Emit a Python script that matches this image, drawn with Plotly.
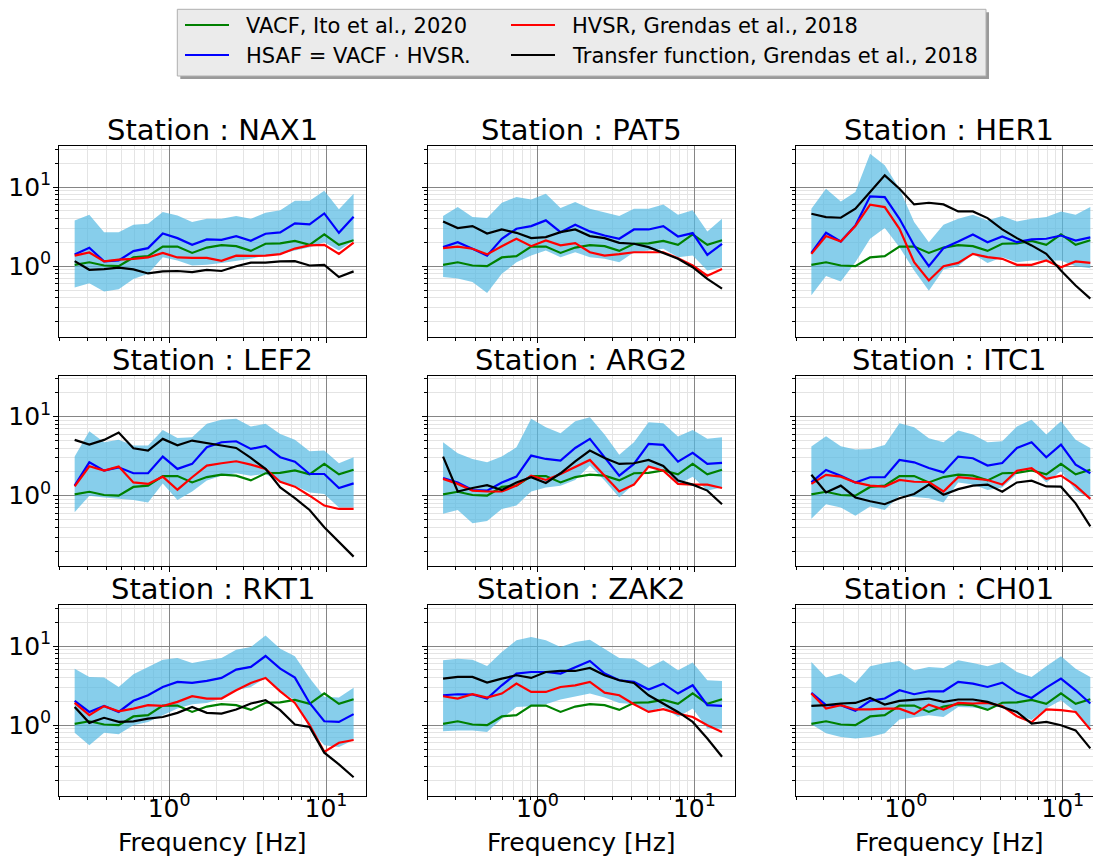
import plotly.graph_objects as go

W, H = 1093, 857
FONT = "DejaVu Sans"

# Frequencies of the spectral ratios [Hz]
freq_hz = [0.25, 0.310, 0.385, 0.477, 0.592, 0.734, 0.911, 1.130, 1.402, 1.739,
           2.157, 2.676, 3.319, 4.117, 5.107, 6.336, 7.860, 9.750, 12.09, 15.0]

# VACF from Ito et al. (2020), common to every station
vacf_ito2020 = [1.04, 1.12, 1.02, 1.00, 1.29, 1.34, 1.77, 1.77, 1.47, 1.72,
                1.84, 1.79, 1.56, 1.92, 1.94, 2.09, 1.86, 2.52, 1.86, 2.13]

# ---- NAX1
hsaf_NAX1 = [1.41, 1.71, 1.15, 1.18, 1.55, 1.69, 2.59, 2.26, 1.86, 2.18, 2.15, 2.40, 2.09, 2.57, 2.67, 3.47, 3.37, 4.64, 2.64, 4.21]
hvsr_NAX1 = [1.36, 1.49, 1.15, 1.21, 1.24, 1.29, 1.47, 1.29, 1.27, 1.27, 1.17, 1.36, 1.35, 1.36, 1.42, 1.67, 1.83, 1.86, 1.43, 1.99]
tf_NAX1 = [1.16, 0.90, 0.92, 0.96, 0.91, 0.81, 0.86, 0.87, 0.84, 0.90, 0.87, 1.00, 1.11, 1.11, 1.15, 1.16, 1.02, 1.04, 0.73, 0.86]
hsaf_hi_NAX1 = [3.79, 4.47, 2.69, 2.69, 3.34, 3.44, 4.83, 4.38, 3.61, 3.97, 3.97, 4.30, 3.97, 4.73, 5.07, 6.71, 6.71, 8.99, 5.22, 8.24]
hsaf_lo_NAX1 = [0.54, 0.61, 0.48, 0.51, 0.69, 0.80, 1.30, 1.18, 1.02, 1.04, 1.10, 1.18, 1.24, 1.36, 1.43, 1.58, 1.74, 2.01, 1.58, 2.11]

# ---- PAT5
hsaf_PAT5 = [1.74, 2.01, 1.66, 1.36, 2.22, 2.97, 3.21, 3.79, 2.69, 3.34, 2.75, 2.44, 2.22, 2.91, 2.91, 3.21, 2.37, 2.62, 1.39, 1.92]
hvsr_PAT5 = [1.69, 1.77, 1.66, 1.41, 1.79, 2.22, 1.79, 2.11, 1.83, 1.96, 1.50, 1.36, 1.42, 1.50, 1.50, 1.50, 1.26, 1.02, 0.76, 0.92]
tf_PAT5 = [3.68, 3.03, 3.21, 2.59, 2.91, 2.64, 2.26, 2.33, 2.69, 2.91, 2.40, 2.26, 1.97, 1.92, 1.74, 1.46, 1.24, 0.97, 0.69, 0.52]
hsaf_hi_PAT5 = [4.30, 5.58, 4.17, 4.05, 6.33, 7.47, 6.98, 8.24, 5.42, 6.46, 5.32, 4.73, 4.30, 5.32, 5.32, 6.03, 4.47, 5.07, 2.75, 3.97]
hsaf_lo_PAT5 = [0.73, 0.70, 0.63, 0.46, 0.80, 1.12, 1.36, 1.58, 1.30, 1.50, 1.30, 1.24, 1.12, 1.50, 1.58, 1.66, 1.30, 1.36, 0.88, 0.97]

# ---- HER1
hsaf_HER1 = [1.47, 2.64, 2.05, 3.27, 7.62, 7.47, 3.97, 1.83, 1.00, 1.69, 2.05, 2.52, 2.01, 2.37, 2.01, 2.18, 2.22, 2.44, 2.11, 2.31]
hvsr_HER1 = [1.43, 2.40, 2.05, 3.21, 5.97, 5.58, 2.97, 1.12, 0.66, 1.00, 1.10, 1.43, 1.30, 1.24, 1.04, 1.04, 1.18, 0.97, 1.15, 1.10]
tf_HER1 = [4.59, 4.17, 4.09, 5.32, 8.64, 14.05, 9.50, 6.03, 6.33, 6.03, 4.92, 4.92, 4.05, 2.91, 2.26, 1.83, 1.43, 0.88, 0.57, 0.39]
hsaf_hi_HER1 = [5.32, 9.53, 6.58, 8.64, 26.4, 18.8, 9.53, 3.61, 2.01, 3.34, 3.97, 4.47, 3.79, 4.30, 3.68, 3.97, 4.17, 4.92, 4.47, 5.58]
hsaf_lo_HER1 = [0.43, 0.75, 0.64, 1.12, 2.22, 3.03, 1.74, 0.88, 0.49, 0.91, 1.00, 1.43, 1.10, 1.30, 1.12, 1.18, 1.18, 1.18, 1.00, 0.94]

# ---- LEF2
hsaf_LEF2 = [1.34, 2.64, 2.07, 2.28, 1.92, 1.92, 3.12, 2.18, 2.52, 4.09, 4.73, 4.87, 3.90, 4.25, 3.06, 2.69, 1.88, 1.88, 1.25, 1.43]
hvsr_LEF2 = [1.31, 2.35, 2.07, 2.33, 1.47, 1.41, 1.74, 1.19, 1.71, 2.40, 2.57, 2.72, 2.47, 2.18, 1.50, 1.30, 1.00, 0.75, 0.68, 0.68]
tf_LEF2 = [5.07, 4.42, 5.07, 6.27, 3.97, 3.71, 5.22, 4.34, 4.97, 4.59, 4.30, 4.01, 3.00, 2.18, 1.27, 0.93, 0.66, 0.40, 0.26, 0.17]
hsaf_hi_LEF2 = [3.12, 6.52, 4.73, 5.07, 4.30, 4.30, 6.78, 5.37, 5.47, 8.08, 9.07, 9.34, 7.47, 8.08, 6.03, 5.07, 3.64, 3.71, 2.57, 3.06]
hsaf_lo_LEF2 = [0.62, 1.00, 0.95, 0.91, 0.88, 0.82, 1.43, 0.88, 1.13, 1.55, 1.79, 1.92, 1.79, 1.88, 1.47, 1.34, 1.10, 1.05, 0.71, 0.71]

# ---- ARG2
hsaf_ARG2 = [1.67, 1.47, 1.18, 1.16, 1.47, 1.74, 3.21, 2.91, 2.77, 4.01, 5.22, 3.06, 1.79, 2.52, 4.51, 4.38, 2.69, 3.47, 2.52, 2.59]
hvsr_ARG2 = [1.63, 1.41, 1.16, 1.13, 1.13, 1.34, 1.79, 1.58, 1.88, 2.28, 2.83, 1.79, 1.13, 1.38, 2.33, 2.07, 1.41, 1.38, 1.38, 1.25]
tf_ARG2 = [3.12, 1.13, 1.25, 1.36, 1.18, 1.47, 1.71, 1.45, 1.92, 2.72, 3.71, 3.00, 2.52, 2.57, 2.83, 2.37, 1.55, 1.38, 1.16, 0.78]
hsaf_hi_ARG2 = [4.73, 3.44, 2.91, 2.64, 3.12, 4.09, 9.34, 7.33, 6.15, 8.73, 9.81, 5.92, 3.30, 4.73, 8.48, 8.24, 5.58, 6.78, 5.22, 5.47]
hsaf_lo_ARG2 = [0.59, 0.66, 0.45, 0.48, 0.68, 0.75, 1.13, 1.27, 1.34, 1.58, 2.40, 1.55, 0.95, 1.41, 2.28, 2.18, 1.38, 1.74, 1.16, 1.27]

# ---- ITC1
hsaf_ITC1 = [1.47, 2.11, 1.79, 1.47, 1.71, 1.71, 2.83, 2.64, 2.24, 1.97, 3.12, 2.97, 2.40, 2.59, 4.01, 4.73, 3.06, 4.42, 2.47, 1.92]
hvsr_ITC1 = [1.41, 1.83, 1.74, 1.47, 1.34, 1.30, 1.58, 1.50, 1.49, 1.13, 1.71, 1.66, 1.58, 1.38, 2.07, 2.22, 1.63, 1.79, 1.34, 0.91]
tf_ITC1 = [1.84, 1.10, 1.34, 0.95, 0.85, 0.78, 0.93, 1.05, 1.38, 1.03, 1.21, 1.34, 1.38, 1.12, 1.47, 1.55, 1.31, 1.30, 0.80, 0.41]
hsaf_hi_ITC1 = [4.17, 5.64, 4.20, 3.82, 3.89, 4.38, 8.24, 7.33, 5.32, 4.73, 6.65, 5.92, 4.73, 4.87, 7.47, 9.07, 5.92, 8.73, 5.07, 4.01]
hsaf_lo_ITC1 = [0.51, 0.78, 0.71, 0.56, 0.73, 0.66, 1.00, 0.97, 0.93, 0.82, 1.47, 1.38, 1.18, 1.27, 1.88, 2.28, 1.47, 2.03, 1.16, 0.91]

# ---- RKT1
hsaf_RKT1 = [2.03, 1.47, 1.75, 1.47, 2.03, 2.39, 3.04, 3.52, 3.42, 3.62, 3.95, 5.03, 5.44, 7.48, 5.18, 3.99, 1.91, 1.12, 1.10, 1.38]
hvsr_RKT1 = [1.91, 1.34, 1.74, 1.50, 1.62, 1.79, 1.75, 1.97, 2.32, 2.17, 2.17, 2.76, 3.42, 3.95, 2.68, 1.91, 1.00, 0.46, 0.60, 0.65]
tf_RKT1 = [1.70, 1.07, 1.24, 1.10, 1.12, 1.21, 1.27, 1.43, 1.70, 1.43, 1.40, 1.58, 1.88, 2.07, 1.55, 1.02, 0.95, 0.45, 0.32, 0.22]
hsaf_hi_RKT1 = [5.18, 4.07, 4.00, 3.04, 4.39, 5.44, 6.72, 7.06, 6.11, 6.59, 7.06, 8.99, 9.71, 13.6, 9.25, 7.41, 3.95, 2.28, 2.23, 2.98]
hsaf_lo_RKT1 = [0.80, 0.56, 0.80, 0.77, 1.00, 1.10, 1.34, 1.62, 1.84, 1.91, 2.17, 2.76, 3.04, 3.95, 2.71, 2.07, 0.91, 0.56, 0.53, 0.65]

# ---- ZAK2
hsaf_ZAK2 = [2.39, 2.46, 2.44, 2.17, 3.19, 4.48, 4.70, 4.70, 4.48, 5.44, 6.47, 4.48, 3.69, 3.52, 2.82, 3.35, 2.51, 3.19, 1.79, 1.75]
hvsr_ZAK2 = [2.32, 2.17, 2.46, 2.23, 2.51, 3.35, 2.63, 2.63, 3.04, 3.19, 3.52, 2.58, 2.39, 1.84, 1.47, 1.59, 1.40, 1.27, 1.00, 0.82]
tf_ZAK2 = [3.87, 4.07, 4.07, 3.45, 3.87, 4.27, 3.95, 4.70, 4.84, 4.84, 5.28, 4.27, 3.69, 3.42, 2.39, 1.88, 1.47, 1.10, 0.68, 0.40]
hsaf_hi_ZAK2 = [6.59, 6.92, 6.70, 5.60, 8.40, 11.8, 13.0, 11.8, 9.71, 11.2, 12.0, 9.25, 7.06, 6.92, 5.33, 6.59, 4.93, 6.17, 3.69, 3.62]
hsaf_lo_ZAK2 = [0.84, 0.86, 0.86, 0.82, 1.21, 1.70, 1.74, 1.84, 2.11, 2.28, 2.51, 2.23, 1.91, 1.84, 1.47, 1.70, 1.27, 1.62, 0.91, 0.91]

# ---- CH01
hsaf_CH01 = [2.56, 1.79, 1.79, 1.52, 2.03, 2.17, 2.76, 2.46, 2.68, 2.68, 3.52, 3.35, 3.04, 3.45, 2.58, 2.21, 2.98, 3.87, 2.76, 1.88]
hvsr_CH01 = [2.51, 1.62, 1.79, 1.58, 1.58, 1.62, 1.62, 1.38, 1.82, 1.58, 1.91, 1.88, 1.91, 1.74, 1.30, 1.09, 1.58, 1.55, 1.47, 0.88]
tf_CH01 = [1.75, 1.79, 1.88, 1.91, 2.21, 1.82, 2.03, 2.11, 2.17, 1.97, 2.11, 2.11, 1.97, 1.70, 1.47, 1.05, 1.10, 1.00, 0.86, 0.51]
hsaf_hi_CH01 = [6.29, 3.99, 4.48, 3.42, 5.54, 6.11, 6.47, 4.93, 5.44, 5.28, 6.59, 6.11, 5.54, 6.29, 4.70, 4.07, 5.54, 7.41, 5.18, 4.07]
hsaf_lo_CH01 = [1.03, 0.79, 0.71, 0.68, 0.71, 0.79, 1.18, 1.27, 1.34, 1.27, 1.70, 1.67, 1.58, 1.79, 1.38, 1.16, 1.62, 2.07, 1.47, 0.86]

stations = [
    ("NAX1", hsaf_NAX1, hvsr_NAX1, tf_NAX1, hsaf_lo_NAX1, hsaf_hi_NAX1),
    ("PAT5", hsaf_PAT5, hvsr_PAT5, tf_PAT5, hsaf_lo_PAT5, hsaf_hi_PAT5),
    ("HER1", hsaf_HER1, hvsr_HER1, tf_HER1, hsaf_lo_HER1, hsaf_hi_HER1),
    ("LEF2", hsaf_LEF2, hvsr_LEF2, tf_LEF2, hsaf_lo_LEF2, hsaf_hi_LEF2),
    ("ARG2", hsaf_ARG2, hvsr_ARG2, tf_ARG2, hsaf_lo_ARG2, hsaf_hi_ARG2),
    ("ITC1", hsaf_ITC1, hvsr_ITC1, tf_ITC1, hsaf_lo_ITC1, hsaf_hi_ITC1),
    ("RKT1", hsaf_RKT1, hvsr_RKT1, tf_RKT1, hsaf_lo_RKT1, hsaf_hi_RKT1),
    ("ZAK2", hsaf_ZAK2, hvsr_ZAK2, tf_ZAK2, hsaf_lo_ZAK2, hsaf_hi_ZAK2),
    ("CH01", hsaf_CH01, hvsr_CH01, tf_CH01, hsaf_lo_CH01, hsaf_hi_CH01),
]

legend_labels = ["VACF, Ito et al., 2020", "HSAF = VACF · HVSR.",
                 "HVSR, Grendas et al., 2018", "Transfer function, Grendas et al., 2018"]
line_colors = ["green", "blue", "red", "black"]
BAND = "rgba(84,185,226,0.7)"   # sky blue, lets the grid show through

# ---- layout geometry (pixels)
col_px = [(59.3, 366.0), (427.7, 735.0), (796.0, 1093.0)]
row_px = [(146.0, 336.5), (375.5, 566.0), (605.0, 795.5)]
X_LOG = (-0.70, 1.255)
Y_LOG = (-0.888, 1.518)
px_per_decade = (366.0 - 59.3) / (X_LOG[1] - X_LOG[0])


def px(x):
    return x / W


def py(y):
    return 1 - y / H


major_vals = [1, 10]
major_text = ["10<sup>0</sup>", "10<sup>1</sup>"]
minor_vals = [m * 10 ** e for e in (-1, 0, 1) for m in range(2, 10)]

fig = go.Figure()
layout = {}
annotations = []

for k, (name, hsaf, hvsr, tf, lo, hi) in enumerate(stations):
    r, c = divmod(k, 3)
    idx = "" if k == 0 else str(k + 1)
    xa, ya = "x" + idx, "y" + idx

    fig.add_trace(go.Scatter(x=freq_hz, y=lo, xaxis=xa, yaxis=ya, mode="lines",
                             line=dict(width=0, color=BAND), showlegend=False,
                             hoverinfo="skip"))
    fig.add_trace(go.Scatter(x=freq_hz, y=hi, xaxis=xa, yaxis=ya, mode="lines",
                             line=dict(width=0, color=BAND), fill="tonexty",
                             fillcolor=BAND, showlegend=False, hoverinfo="skip"))
    for series, label, color in zip([vacf_ito2020, hsaf, hvsr, tf], legend_labels, line_colors):
        fig.add_trace(go.Scatter(x=freq_hz, y=series, xaxis=xa, yaxis=ya, mode="lines",
                                 name=label, line=dict(color=color, width=2.2),
                                 showlegend=False))

    x0, x1 = col_px[c]
    y0, y1 = row_px[r]
    xr_hi = X_LOG[0] + (x1 - x0) / px_per_decade
    common = dict(
        type="log", showline=True, linecolor="black", linewidth=1.2,
        ticks="outside", ticklen=5, tickwidth=1.2, tickcolor="black",
        tickvals=major_vals, ticktext=major_text,
        tickfont=dict(family=FONT, size=25, color="black"),
        showgrid=True, gridcolor="#858585", gridwidth=1.2, zeroline=False,
        minor=dict(tickvals=minor_vals, ticks="outside", ticklen=3, tickwidth=1,
                   tickcolor="black", showgrid=True, gridcolor="#e4e4e4", gridwidth=1),
    )
    layout["xaxis" + idx] = dict(common, domain=[px(x0), px(x1)], anchor=ya,
                                 range=[X_LOG[0], xr_hi], mirror=True,
                                 showticklabels=(r == 2), ticklabelstandoff=-15)
    layout["yaxis" + idx] = dict(common, domain=[py(y1), py(y0)], anchor=xa,
                                 range=list(Y_LOG), mirror=(c < 2),
                                 showticklabels=(c == 0), ticklabelstandoff=-3)

    full_x1 = x0 + (X_LOG[1] - X_LOG[0]) * px_per_decade
    cx = (x0 + full_x1) / 2
    annotations.append(dict(text=f"Station : {name}", x=px(cx), y=py(y0 - 16),
                            xref="paper", yref="paper", xanchor="center", yanchor="middle",
                            showarrow=False, font=dict(family=FONT, size=29, color="black")))
    if r == 2:
        annotations.append(dict(text="Frequency [Hz]", x=px(cx), y=py(842),
                                xref="paper", yref="paper", xanchor="center",
                                yanchor="middle", showarrow=False,
                                font=dict(family=FONT, size=25, color="black")))

# ---- legend box (two columns, column-major order)
shapes = [
    dict(type="rect", xref="paper", yref="paper", x0=px(180.3), x1=px(989), y0=py(79),
         y1=py(12.3), fillcolor="#9a9a9a", line=dict(width=0), layer="above"),
    dict(type="rect", xref="paper", yref="paper", x0=px(177.3), x1=px(986), y0=py(76),
         y1=py(9.3), fillcolor="#ebebeb", line=dict(color="#b0b0b0", width=1), layer="above"),
]
legend_pos = [(185, 26), (185, 56), (511, 26), (511, 56)]
for (lx, ly), label, color in zip(legend_pos, legend_labels, line_colors):
    shapes.append(dict(type="line", xref="paper", yref="paper", x0=px(lx), x1=px(lx + 44),
                       y0=py(ly - 1), y1=py(ly - 1), line=dict(color=color, width=2.2),
                       layer="above"))
    annotations.append(dict(text=label, x=px(lx + 59), y=py(ly), xref="paper", yref="paper",
                            xanchor="left", yanchor="middle", showarrow=False,
                            font=dict(family=FONT, size=21, color="black")))

fig.update_layout(
    width=W, height=H, margin=dict(l=0, r=0, t=0, b=0),
    paper_bgcolor="white", plot_bgcolor="white",
    font=dict(family=FONT, color="black"),
    showlegend=False, annotations=annotations, shapes=shapes, **layout,
)

fig.write_html("out.html")
